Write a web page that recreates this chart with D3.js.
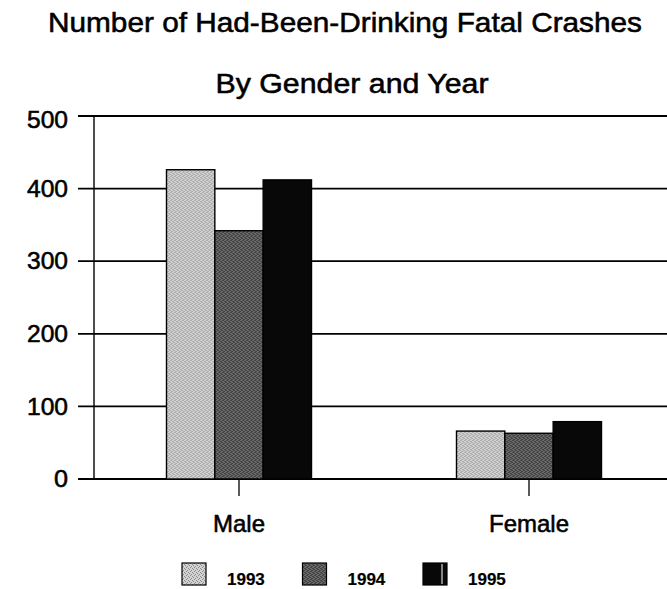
<!DOCTYPE html>
<html>
<head>
<meta charset="utf-8">
<script src="https://cdn.jsdelivr.net/npm/d3@7"></script>
<style>
  html, body { margin: 0; padding: 0; background: #fff; }
  svg { display: block; font-family: "Liberation Sans", Arial, sans-serif; }
  text { fill: #000; stroke: #000; stroke-width: 0.55px; }
</style>
</head>
<body>
<svg id="chart" width="667" height="589"></svg>
<script>
const genders = ["Male", "Female"];
const years = ["1993", "1994", "1995"];
const values = {
  "1993": [426, 66],
  "1994": [342, 63],
  "1995": [412, 79]
};
const yTicks = [0, 100, 200, 300, 400, 500];
const titleLines = ["Number of Had-Been-Drinking Fatal Crashes", "By Gender and Year"];

const svg = d3.select("#chart");
const W = 667;

// stipple fills, a rough stand-in for the scanned textures
const defs = svg.append("defs");
const fills = {
  "1993": { base: "#d2d2d2", dot: "#8a8a8a" },
  "1994": { base: "#6a6a6a", dot: "#1e1e1e" },
  "1995": { base: "#080808", dot: "#080808" }
};
years.forEach((yr) => {
  const p = defs.append("pattern")
    .attr("id", "fill" + yr)
    .attr("width", 4).attr("height", 4)
    .attr("patternUnits", "userSpaceOnUse");
  p.append("rect").attr("width", 4).attr("height", 4).attr("fill", fills[yr].base);
  [[0, 0], [2, 1], [1, 3], [3, 2]].forEach(([dx, dy]) => {
    p.append("rect").attr("x", dx).attr("y", dy).attr("width", 1).attr("height", 1)
      .attr("fill", fills[yr].dot);
  });
});

// title
svg.append("g").selectAll("text")
  .data(titleLines)
  .join("text")
  .attr("x", (d, i) => i === 0 ? 345 : 352)
  .attr("y", (d, i) => i === 0 ? 32 : 93)
  .attr("text-anchor", "middle")
  .attr("font-size", 28)
  .attr("textLength", (d, i) => i === 0 ? 594 : 273)
  .attr("lengthAdjust", "spacingAndGlyphs")
  .text((d) => d);

const y = d3.scaleLinear().domain([0, 500]).range([479, 116]);
const x0 = d3.scaleBand().domain(genders).range([94, 674]).paddingInner(0.5).paddingOuter(0.25);
const x1 = d3.scaleBand().domain(years).range([0, x0.bandwidth()]);

// gridlines and y ticks
svg.append("g").selectAll("line")
  .data(yTicks)
  .join("line")
  .attr("x1", 78).attr("x2", W)
  .attr("y1", (d) => y(d)).attr("y2", (d) => y(d))
  .attr("stroke", "#000")
  .attr("stroke-width", 1.8);

svg.append("g").selectAll("text")
  .data(yTicks)
  .join("text")
  .attr("x", 68)
  .attr("y", (d) => y(d) + (d === 500 ? 4 : 0))
  .attr("dy", "0.36em")
  .attr("text-anchor", "end")
  .attr("font-size", 23)
  .attr("textLength", (d) => d === 0 ? 14 : 41)
  .attr("lengthAdjust", "spacingAndGlyphs")
  .text((d) => d);

// y axis line
svg.append("line")
  .attr("x1", 94).attr("x2", 94)
  .attr("y1", y(500)).attr("y2", y(0))
  .attr("stroke", "#000").attr("stroke-width", 1.4);

// bars
const groups = svg.append("g").selectAll("g")
  .data(genders)
  .join("g")
  .attr("transform", (d) => `translate(${x0(d)},0)`);

groups.selectAll("rect")
  .data((g, gi) => years.map((yr) => ({ yr, v: values[yr][gi] })))
  .join("rect")
  .attr("x", (d) => x1(d.yr))
  .attr("y", (d) => y(d.v))
  .attr("width", x1.bandwidth())
  .attr("height", (d) => y(0) - y(d.v))
  .attr("fill", (d) => `url(#fill${d.yr})`)
  .attr("stroke", "#000")
  .attr("stroke-width", 1.4);

// x ticks and labels
svg.append("g").selectAll("line")
  .data(genders)
  .join("line")
  .attr("x1", (d) => x0(d) + x0.bandwidth() / 2)
  .attr("x2", (d) => x0(d) + x0.bandwidth() / 2)
  .attr("y1", y(0)).attr("y2", y(0) + 17)
  .attr("stroke", "#000").attr("stroke-width", 1.3);

svg.append("g").selectAll("text")
  .data(genders)
  .join("text")
  .attr("x", (d) => x0(d) + x0.bandwidth() / 2)
  .attr("y", 532)
  .attr("text-anchor", "middle")
  .attr("font-size", 24)
  .text((d) => d);

// legend
const legend = svg.append("g").selectAll("g")
  .data(years)
  .join("g")
  .attr("transform", (d, i) => `translate(${182 + i * 120.5},563)`);

legend.append("rect")
  .attr("width", 24).attr("height", 22)
  .attr("fill", (d) => `url(#fill${d})`)
  .attr("stroke", "#000").attr("stroke-width", 1.2);

legend.filter((d) => d === "1995").append("line")
  .attr("x1", 19).attr("x2", 19).attr("y1", 1).attr("y2", 21)
  .attr("stroke", "#fff").attr("stroke-width", 1);

legend.append("text")
  .attr("x", 45)
  .attr("y", 22)
  .attr("font-size", 17)
  .attr("font-weight", "bold")
  .style("stroke-width", "0.2px")
  .text((d) => d);
</script>
</body>
</html>
